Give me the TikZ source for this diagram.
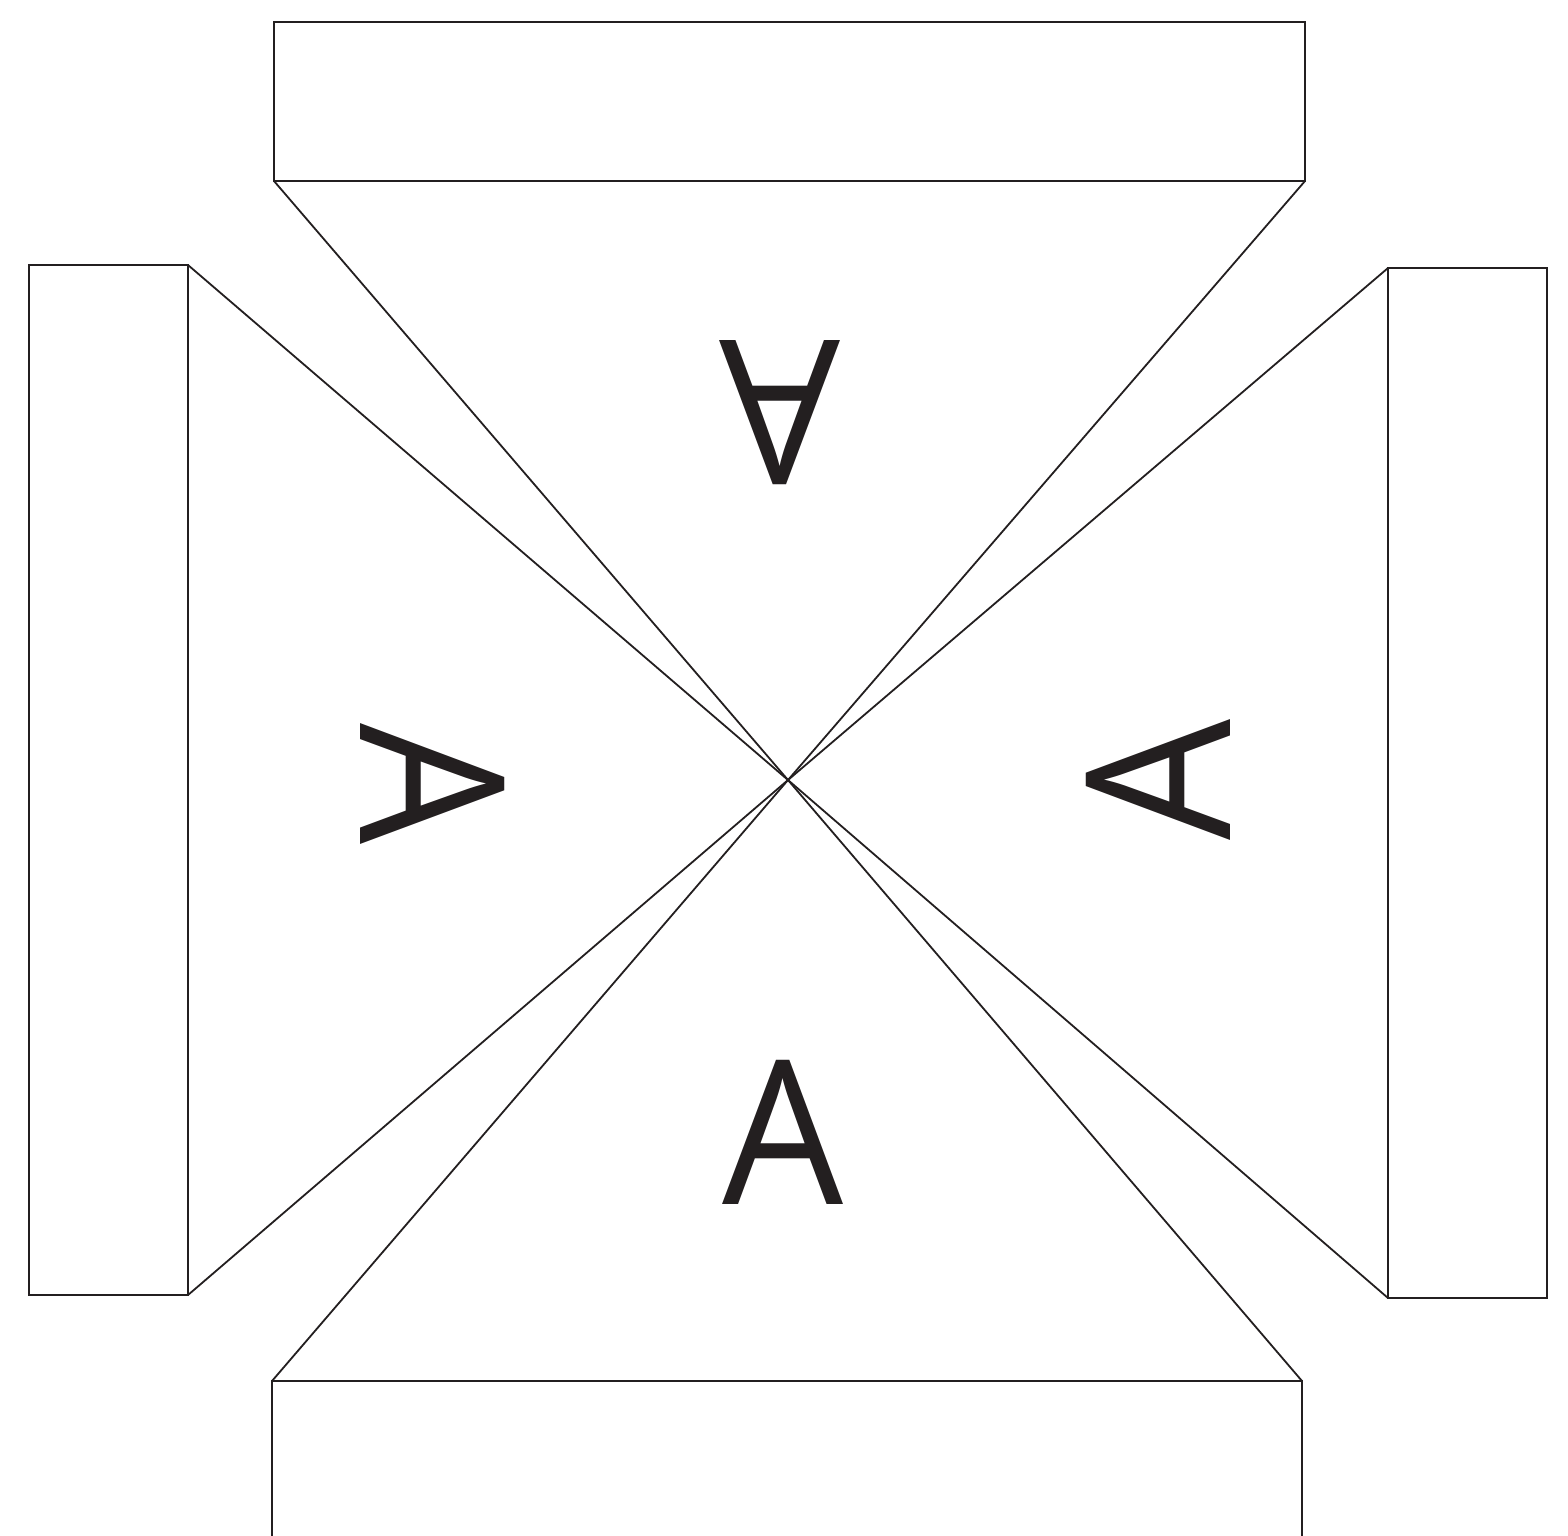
\documentclass[tikz,border=0pt]{standalone}
\usepackage{fontspec}
\setmainfont{Open Sans}
\usepackage{graphicx}
\definecolor{ink}{HTML}{231F20}
\begin{document}
\begin{tikzpicture}[x=1pt,y=-1pt,
  shp/.style={draw=ink,line width=1.8pt,line join=miter},
  letter/.style={inner sep=0pt,text=ink,text depth=0pt}]
\useasboundingbox (0,0) rectangle (1568,1535);
\coordinate (c) at (788,780);
% top
\draw[shp] (274,22) rectangle (1305,181);
\coordinate (t1) at (274,181); \coordinate (t2) at (1305,181);
\draw[shp] (t1) -- (c) -- (t2);
% left
\draw[shp] (29,265) rectangle (188,1295);
\coordinate (l1) at (188,265); \coordinate (l2) at (188,1295);
\draw[shp] (l1) -- (c) -- (l2);
% right
\draw[shp] (1388,268) rectangle (1547,1298);
\coordinate (r1) at (1388,268); \coordinate (r2) at (1388,1298);
\draw[shp] (r1) -- (c) -- (r2);
% bottom
\draw[shp] (272,1540) -- (272,1381) -- (1302,1381) -- (1302,1540);
\coordinate (b1) at (272,1381); \coordinate (b2) at (1302,1381);
\draw[shp] (b1) -- (c) -- (b2);
% letters
\node[letter] (lb) at (782.5,1132) {\resizebox{121pt}{144pt}{A}};
\node[letter,rotate=180] (lt) at (779.5,412.5) {\resizebox{121pt}{144pt}{A}};
\node[letter,rotate=-90] (ll) at (432.5,784) {\resizebox{121pt}{144pt}{A}};
\node[letter,rotate=90] (lr) at (1158,779.5) {\resizebox{121pt}{144pt}{A}};
\end{tikzpicture}
\end{document}
